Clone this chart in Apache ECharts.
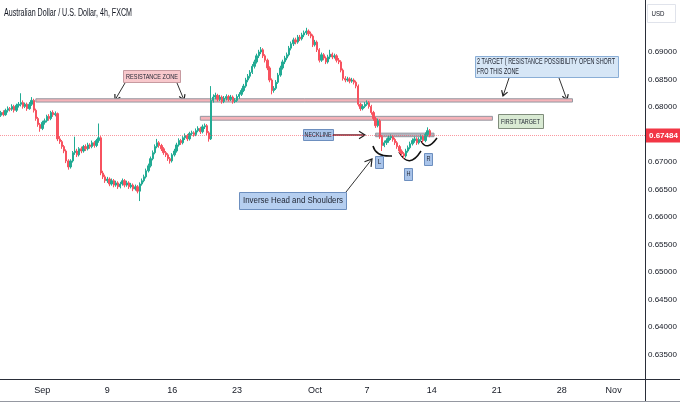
<!DOCTYPE html>
<html><head><meta charset="utf-8">
<script src="https://cdn.jsdelivr.net/npm/echarts@6/dist/echarts.min.js"></script>
<style>html,body{margin:0;padding:0;background:#fff}#c{width:680px;height:402px}</style>
</head><body><div id="c"></div>
<script>
// ---- DATA (AUD/USD 4h, FXCM) : [open, close, low, high] ----
const candles = [
[0.6781,0.6785,0.6778,0.6788],[0.6785,0.6790,0.6782,0.6793],[0.6790,0.6786,0.6783,0.6794],[0.6786,0.6794,0.6784,0.6797],
[0.6794,0.6797,0.6790,0.6801],[0.6797,0.6796,0.6792,0.6800],[0.6796,0.6801,0.6793,0.6805],[0.6801,0.6794,0.6790,0.6804],
[0.6794,0.6803,0.6791,0.6806],[0.6803,0.6805,0.6799,0.6809],[0.6805,0.6808,0.6801,0.6825],[0.6808,0.6801,0.6797,0.6812],
[0.6801,0.6805,0.6798,0.6808],[0.6805,0.6797,0.6793,0.6808],[0.6797,0.6805,0.6795,0.6809],[0.6805,0.6812,0.6802,0.6818],
[0.6812,0.6794,0.6790,0.6815],[0.6794,0.6779,0.6775,0.6797],[0.6779,0.6768,0.6764,0.6782],[0.6768,0.6761,0.6755,0.6771],
[0.6761,0.6772,0.6758,0.6775],[0.6772,0.6775,0.6768,0.6779],[0.6775,0.6783,0.6772,0.6786],[0.6783,0.6779,0.6775,0.6787],
[0.6779,0.6790,0.6776,0.6793],[0.6790,0.6786,0.6782,0.6794],[0.6786,0.6788,0.6783,0.6792],[0.6788,0.6742,0.6738,0.6790],
[0.6742,0.6737,0.6733,0.6747],[0.6737,0.6728,0.6724,0.6740],[0.6728,0.6720,0.6716,0.6731],[0.6720,0.6702,0.6698,0.6723],
[0.6702,0.6691,0.6686,0.6705],[0.6691,0.6702,0.6688,0.6705],[0.6702,0.6717,0.6699,0.6720],[0.6717,0.6720,0.6713,0.6746],
[0.6720,0.6713,0.6709,0.6724],[0.6713,0.6724,0.6710,0.6727],[0.6724,0.6720,0.6716,0.6728],[0.6720,0.6728,0.6717,0.6731],
[0.6728,0.6724,0.6720,0.6732],[0.6724,0.6731,0.6721,0.6735],[0.6731,0.6728,0.6724,0.6734],[0.6728,0.6735,0.6725,0.6739],
[0.6735,0.6730,0.6726,0.6738],[0.6730,0.6739,0.6727,0.6742],[0.6739,0.6744,0.6735,0.6770],[0.6744,0.6680,0.6676,0.6747],
[0.6680,0.6673,0.6669,0.6684],[0.6673,0.6666,0.6662,0.6677],[0.6666,0.6669,0.6662,0.6673],[0.6669,0.6660,0.6656,0.6672],
[0.6660,0.6666,0.6657,0.6670],[0.6666,0.6658,0.6654,0.6669],[0.6658,0.6662,0.6655,0.6666],[0.6662,0.6655,0.6651,0.6665],
[0.6655,0.6660,0.6652,0.6664],[0.6660,0.6666,0.6657,0.6670],[0.6666,0.6658,0.6654,0.6669],[0.6658,0.6662,0.6655,0.6666],
[0.6662,0.6655,0.6651,0.6665],[0.6655,0.6658,0.6652,0.6662],[0.6658,0.6651,0.6647,0.6661],[0.6651,0.6655,0.6648,0.6659],
[0.6655,0.6647,0.6643,0.6658],[0.6647,0.6660,0.6629,0.6663],[0.6660,0.6666,0.6657,0.6670],[0.6666,0.6673,0.6663,0.6677],
[0.6673,0.6684,0.6670,0.6688],[0.6684,0.6693,0.6681,0.6697],[0.6693,0.6706,0.6690,0.6710],[0.6706,0.6717,0.6703,0.6721],
[0.6717,0.6728,0.6714,0.6732],[0.6728,0.6735,0.6725,0.6742],[0.6735,0.6730,0.6726,0.6738],[0.6730,0.6724,0.6720,0.6733],
[0.6724,0.6717,0.6713,0.6727],[0.6717,0.6713,0.6709,0.6720],[0.6713,0.6706,0.6702,0.6716],[0.6706,0.6702,0.6697,0.6709],
[0.6702,0.6713,0.6699,0.6716],[0.6713,0.6720,0.6710,0.6724],[0.6720,0.6731,0.6717,0.6735],[0.6731,0.6739,0.6728,0.6743],
[0.6739,0.6735,0.6731,0.6742],[0.6735,0.6744,0.6732,0.6747],[0.6744,0.6748,0.6740,0.6752],[0.6748,0.6742,0.6738,0.6751],
[0.6742,0.6752,0.6739,0.6755],[0.6752,0.6753,0.6748,0.6757],[0.6753,0.6750,0.6746,0.6756],[0.6750,0.6757,0.6747,0.6761],
[0.6757,0.6761,0.6754,0.6765],[0.6761,0.6755,0.6751,0.6764],[0.6755,0.6764,0.6752,0.6768],[0.6764,0.6766,0.6760,0.6770],
[0.6766,0.6753,0.6749,0.6769],[0.6753,0.6742,0.6737,0.6756],[0.6742,0.6812,0.6740,0.6838],[0.6812,0.6818,0.6808,0.6823],
[0.6818,0.6821,0.6814,0.6826],[0.6821,0.6814,0.6810,0.6824],[0.6814,0.6818,0.6811,0.6822],[0.6818,0.6810,0.6806,0.6821],
[0.6810,0.6816,0.6807,0.6820],[0.6816,0.6819,0.6812,0.6823],[0.6819,0.6814,0.6810,0.6822],[0.6814,0.6818,0.6811,0.6822],
[0.6818,0.6810,0.6806,0.6821],[0.6810,0.6812,0.6807,0.6816],[0.6812,0.6819,0.6809,0.6823],[0.6819,0.6823,0.6815,0.6827],
[0.6823,0.6830,0.6820,0.6834],[0.6830,0.6838,0.6827,0.6842],[0.6838,0.6849,0.6835,0.6853],[0.6849,0.6856,0.6845,0.6860],
[0.6856,0.6863,0.6852,0.6867],[0.6863,0.6874,0.6860,0.6878],[0.6874,0.6882,0.6870,0.6886],[0.6882,0.6893,0.6879,0.6897],
[0.6893,0.6900,0.6889,0.6904],[0.6900,0.6904,0.6896,0.6909],[0.6904,0.6893,0.6889,0.6907],[0.6893,0.6885,0.6881,0.6896],
[0.6885,0.6871,0.6867,0.6888],[0.6871,0.6849,0.6845,0.6874],[0.6849,0.6830,0.6823,0.6852],[0.6830,0.6834,0.6826,0.6838],
[0.6834,0.6845,0.6831,0.6849],[0.6845,0.6858,0.6842,0.6862],[0.6858,0.6871,0.6855,0.6875],[0.6871,0.6882,0.6868,0.6886],
[0.6882,0.6889,0.6878,0.6893],[0.6889,0.6895,0.6885,0.6899],[0.6895,0.6907,0.6892,0.6911],[0.6907,0.6915,0.6903,0.6919],
[0.6915,0.6922,0.6911,0.6926],[0.6922,0.6918,0.6914,0.6926],[0.6918,0.6927,0.6915,0.6931],[0.6927,0.6924,0.6920,0.6931],
[0.6924,0.6931,0.6921,0.6935],[0.6931,0.6935,0.6927,0.6939],[0.6935,0.6938,0.6931,0.6944],[0.6938,0.6933,0.6929,0.6941],
[0.6933,0.6929,0.6925,0.6937],[0.6929,0.6913,0.6909,0.6932],[0.6913,0.6918,0.6910,0.6922],[0.6918,0.6904,0.6900,0.6921],
[0.6904,0.6885,0.6881,0.6907],[0.6885,0.6895,0.6882,0.6899],[0.6895,0.6889,0.6885,0.6898],[0.6889,0.6882,0.6878,0.6892],
[0.6882,0.6891,0.6879,0.6895],[0.6891,0.6896,0.6887,0.6904],[0.6896,0.6891,0.6887,0.6899],[0.6891,0.6893,0.6888,0.6897],
[0.6893,0.6885,0.6881,0.6896],[0.6885,0.6882,0.6878,0.6889],[0.6882,0.6867,0.6863,0.6885],[0.6867,0.6852,0.6848,0.6870],
[0.6852,0.6849,0.6845,0.6856],[0.6849,0.6851,0.6846,0.6855],[0.6851,0.6847,0.6843,0.6854],[0.6847,0.6849,0.6844,0.6853],
[0.6849,0.6845,0.6841,0.6852],[0.6845,0.6838,0.6834,0.6848],[0.6838,0.6805,0.6801,0.6841],[0.6805,0.6797,0.6793,0.6808],
[0.6797,0.6801,0.6794,0.6805],[0.6801,0.6805,0.6798,0.6809],[0.6805,0.6808,0.6802,0.6812],[0.6808,0.6801,0.6797,0.6811],
[0.6801,0.6790,0.6786,0.6804],[0.6790,0.6779,0.6775,0.6793],[0.6779,0.6766,0.6762,0.6782],[0.6766,0.6775,0.6763,0.6779],
[0.6775,0.6746,0.6742,0.6778],[0.6746,0.6730,0.6720,0.6749],[0.6730,0.6735,0.6727,0.6739],[0.6735,0.6739,0.6731,0.6743],
[0.6739,0.6744,0.6735,0.6748],[0.6744,0.6746,0.6740,0.6750],[0.6746,0.6741,0.6737,0.6749],[0.6741,0.6735,0.6731,0.6744],
[0.6735,0.6728,0.6724,0.6738],[0.6728,0.6720,0.6716,0.6731],[0.6720,0.6715,0.6711,0.6723],[0.6715,0.6711,0.6706,0.6718],
[0.6711,0.6720,0.6708,0.6724],[0.6720,0.6726,0.6717,0.6730],[0.6726,0.6733,0.6723,0.6737],[0.6733,0.6739,0.6730,0.6743],
[0.6739,0.6742,0.6735,0.6746],[0.6742,0.6735,0.6731,0.6745],[0.6735,0.6741,0.6732,0.6745],[0.6741,0.6746,0.6738,0.6750],
[0.6746,0.6739,0.6735,0.6749],[0.6739,0.6750,0.6736,0.6754],[0.6750,0.6757,0.6747,0.6763],[0.6757,0.67484,0.6745,0.6760]
];
const lastPrice = 0.67484;
const firstBar = '2019-08-27 16:00';
const totalSlots = 299;
const xTickDates = ['2019-09-02','2019-09-09','2019-09-16','2019-09-23','2019-10-01','2019-10-07','2019-10-14','2019-10-21','2019-10-28','2019-11-01'];
const xTickLabels = ['Sep','9','16','23','Oct','7','14','21','28','Nov'];
const priceTickLabels = ['0.63500','0.64000','0.64500','0.65000','0.65500','0.66000','0.66500','0.67000','0.68000','0.68500','0.69000'];
// annotation zones: [startIndex, endIndex, lowPrice, highPrice]
const resistanceZone = [17, 265, 0.68090, 0.68150];
const firstTargetZone = [93, 228, 0.67760, 0.67830];
const necklineZone = [174, 201, 0.67460, 0.67525];

// ---- categories (4h trading bars, weekends skipped) ----
const categories = [];
(function(){
  let t = new Date(firstBar.replace(' ','T') + ':00Z').getTime();
  while (categories.length < totalSlots) {
    const d = new Date(t);
    const wd = d.getUTCDay();
    if (wd !== 0 && wd !== 6) {
      const s = d.toISOString();
      categories.push(s.slice(0,10) + ' ' + s.slice(11,16));
    }
    t += 4*3600*1000;
  }
})();
const tickMap = {};
xTickDates.forEach((d,i)=>{ tickMap[d + ' 00:00'] = xTickLabels[i]; });

const UP = '#22ab94', DOWN = '#f7525f';
const SANS = "'Liberation Sans',Arial,sans-serif";
const chart = echarts.init(document.getElementById('c'), null, {renderer:'canvas'});
const mctx = document.createElement('canvas').getContext('2d');

function zone(z, fill, border){
  return [{xAxis:z[0], yAxis:z[3], itemStyle:{color:fill, borderColor:border, borderWidth:1}}, {xAxis:z[1], yAxis:z[2]}];
}
function rect(x,y,w,h,fill,stroke){
  return {type:'rect', shape:{x:x,y:y,width:w,height:h}, style:{fill:fill, stroke:stroke, lineWidth:1}};
}
// text squeezed horizontally to the width it has in the reference
function fitText(t, x, y, targetW, fs, align, color, weight){
  const font = (weight||'normal') + ' ' + fs + 'px ' + SANS;
  mctx.font = font;
  const w = mctx.measureText(t).width;
  return {type:'text', x:x, y:y, scaleX: targetW / w, z:10,
    style:{text:t, font:font, fill:color||'#1e2330', textAlign:align, textVerticalAlign:'middle'}};
}
function arrow(x1,y1,x2,y2,color,lw,head){
  const a = Math.atan2(y2-y1, x2-x1), L = head||6, s = 0.55;
  return {type:'group', children:[
    {type:'line', shape:{x1:x1,y1:y1,x2:x2,y2:y2}, style:{stroke:color, lineWidth:lw}},
    {type:'polyline', shape:{points:[[x2-L*Math.cos(a-s), y2-L*Math.sin(a-s)],[x2,y2],[x2-L*Math.cos(a+s), y2-L*Math.sin(a+s)]]}, style:{stroke:'#222', lineWidth:1.2, fill:null}}
  ]};
}
function arc(x1,y1,cx,cy,x2,y2){
  return {type:'bezierCurve', shape:{x1:x1,y1:y1,cpx1:cx,cpy1:cy,x2:x2,y2:y2}, style:{stroke:'#111', lineWidth:1.5, fill:null}};
}

chart.setOption({
  animation:false,
  backgroundColor:'#ffffff',
  grid:{left:-2, right:35, top:-3, bottom:20, containLabel:false, outerBoundsMode:'none'},
  xAxis:{type:'category', data:categories, boundaryGap:true,
    axisLine:{show:false}, axisTick:{show:false}, splitLine:{show:false},
    axisLabel:{interval:(i,v)=> tickMap[v]!==undefined, formatter:(v)=> tickMap[v]||'', color:'#131722', fontSize:9, fontFamily:SANS, margin:4}},
  yAxis:{type:'value', position:'right', min:0.63, max:0.70, interval:0.005,
    axisLine:{show:false}, axisTick:{show:false}, splitLine:{show:false},
    axisLabel:{color:'#131722', fontSize:8, fontFamily:SANS, margin:3,
      formatter:(v)=>{ const s=v.toFixed(5); return priceTickLabels.indexOf(s)>=0 ? s : ''; }}},
  series:[{
    type:'candlestick', data:candles, barWidth:1.8,
    itemStyle:{color:UP, color0:DOWN, borderColor:UP, borderColor0:DOWN, borderWidth:1},
    markArea:{silent:true, data:[
      zone(resistanceZone,'#f6b3b9','#9598a1'),
      zone(firstTargetZone,'#f6b3b9','#9598a1'),
      zone(necklineZone,'#b2b5be','#9598a1')
    ]},
    markLine:{silent:true, precision:5, symbol:['none','none'], data:[{yAxis:lastPrice}],
      lineStyle:{color:'rgba(247,82,95,0.6)', type:'dotted', width:1},
      label:{show:true, position:'end', distance:1, formatter:()=> lastPrice.toFixed(5), color:'#ffffff',
        backgroundColor:'#f23645', padding:[3,3,3,3], fontSize:8, fontFamily:SANS, fontWeight:'bold'}}
  }],
  graphic:[
    fitText('Australian Dollar / U.S. Dollar, 4h, FXCM', 4, 13, 128, 10, 'left', '#131722'),
    {type:'line', shape:{x1:645.5,y1:0,x2:645.5,y2:402}, style:{stroke:'#2a2e39', lineWidth:1}},
    {type:'line', shape:{x1:0,y1:379.5,x2:680,y2:379.5}, style:{stroke:'#2a2e39', lineWidth:1}},
    {type:'line', shape:{x1:0,y1:401.5,x2:680,y2:401.5}, style:{stroke:'#9598a1', lineWidth:1}},
    rect(647.5,4.5,28,18,'#ffffff','#e0e3eb'),
    fitText('USD', 658, 14, 13, 8, 'center', '#131722'),
    rect(123.5,70.5,57,12,'#f8c8cc','#c79aa0'),
    fitText('RESISTANCE ZONE', 152, 76.5, 52, 8, 'center'),
    arrow(125,83,115,100,'#333',1),
    arrow(177,83,184,100,'#333',1),
    rect(475.5,56.5,143,21,'#d6e6f6','#8aaed6'),
    fitText('2 TARGET ( RESISTANCE POSSIBILITY OPEN SHORT', 477, 62, 138, 8.5, 'left'),
    fitText('FRO THIS ZONE', 477, 71.5, 42, 8.5, 'left'),
    arrow(509,78,503,96,'#333',1),
    arrow(559,78,567,100,'#333',1),
    rect(498.5,114.5,45,14,'#d9ead3','#7f8c7b'),
    fitText('FIRST TARGET', 520.5, 121.5, 39, 8, 'center'),
    rect(303.5,129.5,30,11,'#a9c4ea','#6d8fbf'),
    fitText('NECKLINE', 318, 135, 27, 7, 'center'),
    arrow(333,135,365,135,'#7a1f2b',1.5,7),
    rect(239.5,192.5,107,17,'#b6cff0','#6d8fbf'),
    fitText('Inverse Head and Shoulders', 293, 201, 100, 9, 'center'),
    arrow(346,192,372,159,'#333',1,8),
    arc(373,146,376,157,392,156),
    arc(399,152,409,170,421,151),
    arc(421,141,427,152,437,138),
    rect(375.5,156.5,8,12,'#a9c4ea','#6d8fbf'),
    fitText('L', 379.5, 162.5, 3.5, 7, 'center'),
    rect(404.5,168.5,8,12,'#a9c4ea','#6d8fbf'),
    fitText('H', 408.5, 174.5, 4, 7, 'center'),
    rect(424.5,153.5,8,12,'#a9c4ea','#6d8fbf'),
    fitText('R', 428.5, 159.5, 4, 7, 'center')
  ]
});
</script></body></html>
